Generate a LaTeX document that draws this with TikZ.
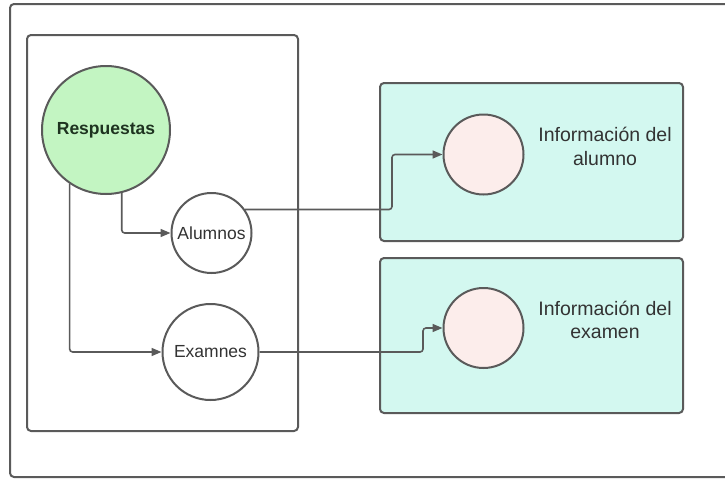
\documentclass[tikz,border=0pt]{standalone}
\usepackage{fontspec}
\setmainfont{Liberation Sans}
\usetikzlibrary{arrows.meta}
\definecolor{stroke}{HTML}{5A5A5A}
\definecolor{txt}{HTML}{333333}
\definecolor{greenfill}{HTML}{C3F5C2}
\definecolor{tealfill}{HTML}{D3F8F0}
\definecolor{pinkfill}{HTML}{FCEDEB}
\definecolor{greentxt}{HTML}{1E3320}
\tikzset{
  frame/.style={draw=stroke, line width=2pt, rounded corners=4pt},
  infobox/.style={frame, fill=tealfill},
  circ/.style={circle, draw=stroke, line width=2pt, inner sep=0pt, text=txt, font=\fontsize{17.5}{21}\selectfont},
  conn/.style={draw=stroke, line width=1.6pt, rounded corners=3pt, -{Triangle[length=10pt,width=8pt]}},
  info/.style={text=txt, align=center, font=\fontsize{19.5}{23.5}\selectfont}
}
\begin{document}
\begin{tikzpicture}[x=1pt,y=-1pt]
\useasboundingbox (0,0) rectangle (725,479);
\begin{scope}
\clip (0,0) rectangle (725,479);
\draw[frame] (10,4) rectangle (735,477);
\end{scope}
\draw[frame] (27,35) rectangle (298,431);
\draw[infobox] (380,83) rectangle (683,241);
\draw[infobox] (380,258) rectangle (683,413);

\node[circ, fill=greenfill, minimum size=128pt, text=greentxt, font=\bfseries\fontsize{17.5}{21}\selectfont] (resp) at (106,130) {Respuestas};
\node[circ, fill=white, minimum size=80pt] (alum) at (211.5,233) {Alumnos};
\node[circ, fill=white, minimum size=96pt] (exam) at (210.5,352) {Examnes};
\node[circ, fill=pinkfill, minimum size=80pt] (p1) at (483.5,154.5) {};
\node[circ, fill=pinkfill, minimum size=80pt] (p2) at (483.5,328) {};

\node[info] (t1) at (605,146.5) {Información del\\alumno};
\node[info] (t2) at (605,320) {Información del\\examen};

\draw[conn] (resp.-76) |- (alum.west);
\draw[conn] (resp.-124) |- (exam.west);
\coordinate (k1) at (392,208.5);
\coordinate (k2) at (423,352);
\draw[conn] (alum.35) -- (alum.35 -| k1) |- (p1.west);
\draw[conn] (exam.east) -- (k2) |- (p2.west);
\end{tikzpicture}
\end{document}
